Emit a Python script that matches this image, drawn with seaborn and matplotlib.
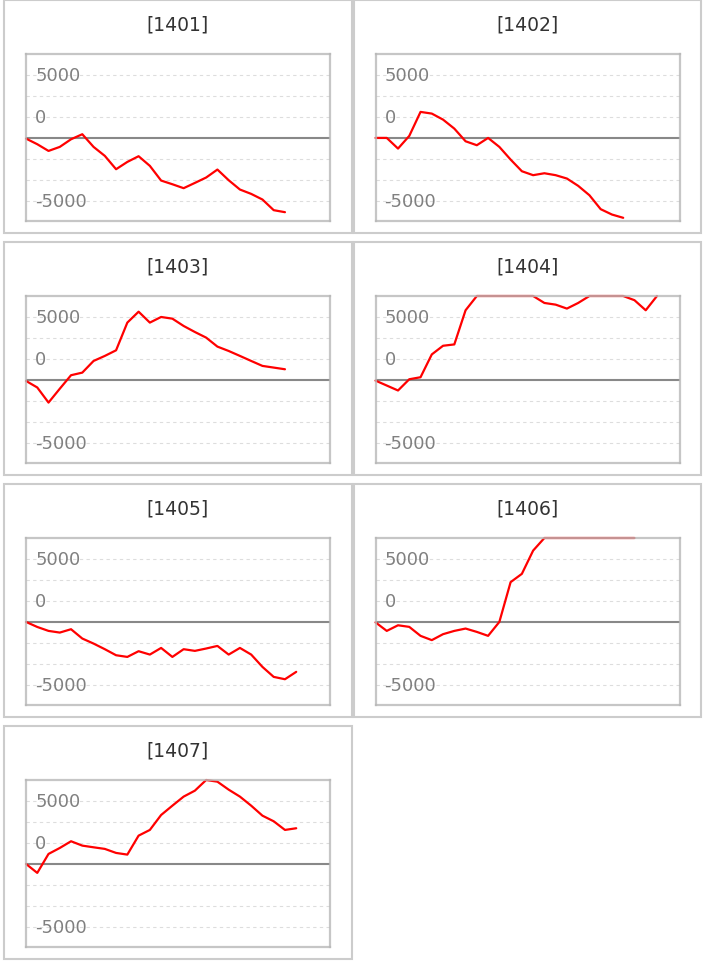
"""
Small-multiple line charts, one per code, drawn with seaborn.
"""
import numpy as np
import pandas as pd
import matplotlib
matplotlib.use('Agg')
import matplotlib.pyplot as plt
import seaborn as sns
from matplotlib.patches import Rectangle

# panel codes and their series
CODES = ['1401', '1402', '1403', '1404', '1405', '1406', '1407']

s1401 = [-80, -750, -1550, -1070, -160, 440, -1070, -2140, -3730, -2860, -2180, -3330,
         -5080, -5520, -5990, -5360, -4720, -3770, -5040, -6150, -6670, -7340, -8610, -8850]
s1402 = [0, 0, -1270, 240, 3100, 2900, 2180, 1110, -400, -870, 0, -1070, -2580, -3970,
         -4440, -4210, -4440, -4840, -5710, -6830, -8490, -9130, -9520]
s1403 = [-120, -900, -2700, -1050, 560, 870, 2260, 2860, 3530, 6830, 8130, 6830, 7500,
         7300, 6430, 5710, 5040, 3970, 3450, 2860, 2260, 1670, 1470, 1270]
s1404 = [-80, -670, -1260, 80, 320, 3040, 4070, 4230, 8300, 10200, 11500, 12500, 12000,
         11000, 10100, 9170, 8970, 8500, 9170, 10300, 11000, 10600, 10000, 9500, 8300, 10200]
s1405 = [0, -600, -1070, -1270, -870, -1980, -2580, -3250, -3970, -4170, -3490, -3890,
         -3100, -4170, -3250, -3450, -3170, -2860, -3890, -3100, -3890, -5360, -6550,
         -6830, -5950]
s1406 = [-50, -1070, -400, -590, -1660, -2170, -1460, -1070, -790, -1190, -1660, 0, 4740,
         5730, 8500, 10100, 11500, 12500, 13000, 12200, 13500, 14000, 13200, 12800]
s1407 = [0, -1070, 1190, 1900, 2700, 2180, 1980, 1790, 1310, 1110, 3370, 4050, 5830, 6940,
         8020, 8730, 10200, 9800, 8850, 8020, 6940, 5750, 5080, 4050, 4250]
SERIES = [s1401, s1402, s1403, s1404, s1405, s1406, s1407]

# y tick labels as they appear in the reference, and the gridlines they sit on
LABEL_POS = [7500, 2500, -7500]
LABEL_TXT = ['5000', '0', '-5000']
GRID = [-7500, -5000, -2500, 2500, 5000, 7500]
YMIN, YMAX = -9900, 10000
XMAX = 27

sns.set_theme(style='white')
plt.rcParams['font.family'] = ['DejaVu Sans']

W, H = 705, 962
fig = plt.figure(figsize=(W / 100, H / 100), dpi=100)

COL_X = [4, 353.5]
ROW_Y = [1, 243, 485, 727]
BOX_W, BOX_H = 347.5, 233

for k, (code, vals) in enumerate(zip(CODES, SERIES)):
    r, c = divmod(k, 2)
    bx, by = COL_X[c], ROW_Y[r]

    # outer panel box + title
    fig.patches.append(Rectangle((bx / W, 1 - (by + BOX_H) / H), BOX_W / W, BOX_H / H,
                                 transform=fig.transFigure, fill=False,
                                 ec='#cccccc', lw=1.5))
    fig.text((bx + BOX_W / 2) / W, 1 - (by + 24) / H, f'[{code}]',
             ha='center', va='center', fontsize=13.5, color='#333333')

    ax = fig.add_axes([(bx + 22) / W, 1 - (by + 221) / H, 304 / W, 167 / H])

    df = pd.DataFrame({'idx': np.arange(len(vals)), 'value': vals})
    # values beyond the top are drawn along the frame, like the original chart
    df['shown'] = df['value'].clip(upper=YMAX)

    ax.axhline(0, color='#888888', lw=1.5, zorder=1.5)
    sns.lineplot(data=df, x='idx', y='shown', ax=ax, color='#ff0000',
                 lw=1.6, clip_on=False, zorder=2)

    ax.set_xlim(0, XMAX)
    ax.set_ylim(YMIN, YMAX)
    ax.set_yticks(GRID)
    ax.set_yticklabels([])
    ax.set_xticks([])
    ax.tick_params(length=0)
    ax.yaxis.grid(True, color='#dddddd', linestyle=(0, (3, 3)), lw=0.8)
    ax.set_axisbelow(True)
    ax.set_xlabel('')
    ax.set_ylabel('')

    for pos, txt in zip(LABEL_POS, LABEL_TXT):
        ax.text(0.03, pos, txt, transform=ax.get_yaxis_transform(),
                ha='left', va='center', fontsize=13, color='#808080')

    # semi-transparent frame on top so the clamped line reads pink
    for s in ax.spines.values():
        s.set_visible(True)
        s.set_color('#b8b8b8')
        s.set_alpha(0.8)
        s.set_linewidth(1.6)
        s.set_zorder(3)

fig.savefig('out.png', dpi=100)
plt.close(fig)
